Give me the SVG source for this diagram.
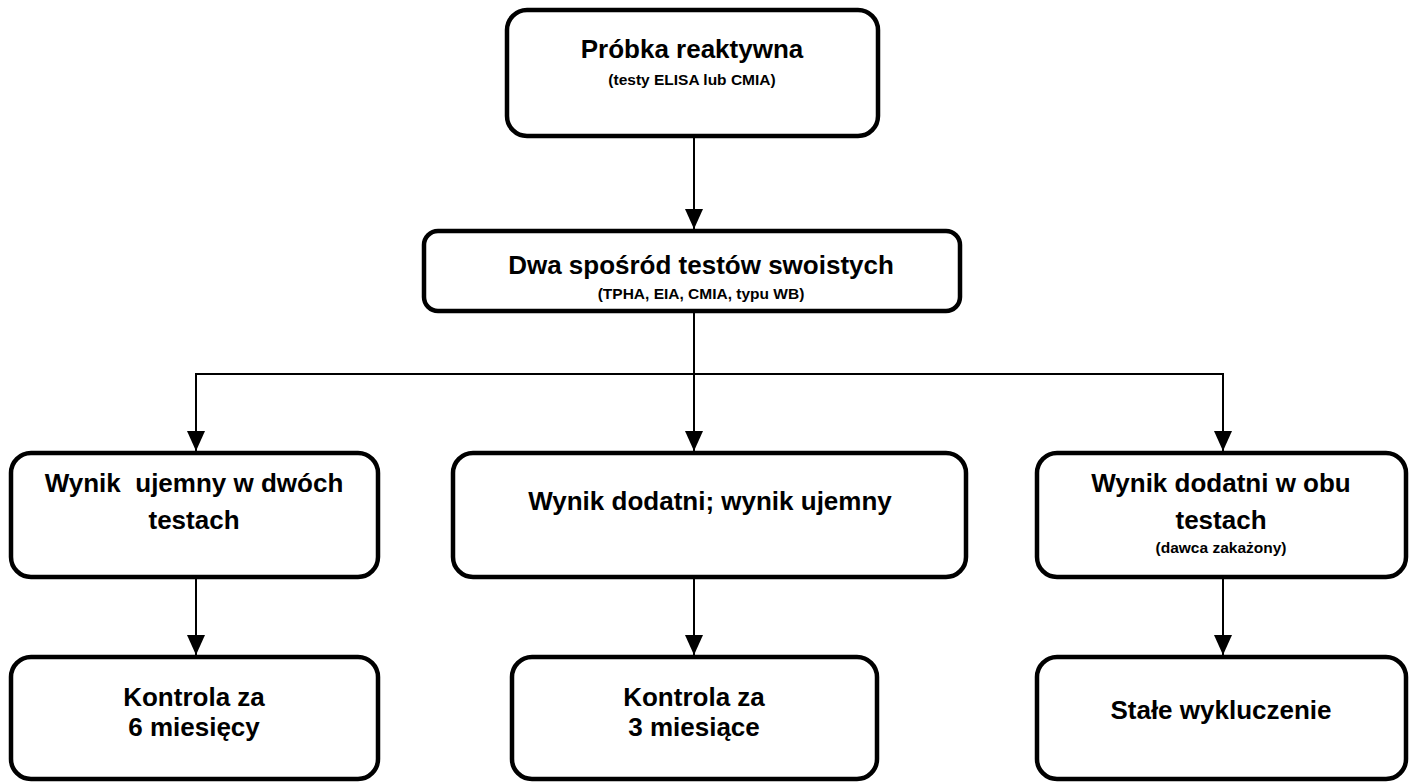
<svg xmlns="http://www.w3.org/2000/svg" width="1414" height="783" viewBox="0 0 1414 783">
<style>
.box{fill:#fff;stroke:#000;stroke-width:4.5}
.t{font-family:"Liberation Sans",Arial,sans-serif;font-weight:bold;fill:#000;text-anchor:middle}
.h{font-size:26px}
.s{font-size:15.5px}
.c{fill:none;stroke:#000;stroke-width:2}
</style>
<defs>
<marker id="arr" markerUnits="userSpaceOnUse" markerWidth="20" markerHeight="18" refX="20" refY="9" orient="auto" viewBox="0 0 20 18">
<path d="M0,0 L20,9 L0,18 z" fill="#000"/>
</marker>
</defs>
<rect width="1414" height="783" fill="#fff"/>
<g id="connectors">
<line class="c" x1="694" y1="138" x2="694" y2="229" marker-end="url(#arr)"/>
<line class="c" x1="694" y1="313" x2="694" y2="451" marker-end="url(#arr)"/>
<line class="c" x1="196" y1="374" x2="1223" y2="374"/>
<line class="c" x1="196" y1="373" x2="196" y2="451" marker-end="url(#arr)"/>
<line class="c" x1="1223" y1="373" x2="1223" y2="451" marker-end="url(#arr)"/>
<line class="c" x1="196" y1="579" x2="196" y2="655" marker-end="url(#arr)"/>
<line class="c" x1="694" y1="579" x2="694" y2="655" marker-end="url(#arr)"/>
<line class="c" x1="1223" y1="579" x2="1223" y2="655" marker-end="url(#arr)"/>
</g>
<g id="n1">
<rect class="box" x="507" y="10" width="371" height="126" rx="20"/>
<text class="t h" x="692" y="58">Próbka reaktywna</text>
<text class="t s" x="692" y="85">(testy ELISA lub CMIA)</text>
</g>
<g id="n2">
<rect class="box" x="424" y="231" width="536" height="80" rx="14"/>
<text class="t h" x="701" y="274">Dwa spośród testów swoistych</text>
<text class="t s" x="701" y="299">(TPHA, EIA, CMIA, typu WB)</text>
</g>
<g id="n3">
<rect class="box" x="11" y="453" width="367" height="124" rx="20"/>
<text class="t h" x="194" y="492" xml:space="preserve">Wynik  ujemny w dwóch</text>
<text class="t h" x="194" y="529">testach</text>
</g>
<g id="n4">
<rect class="box" x="453" y="453" width="513" height="124" rx="20"/>
<text class="t h" x="710" y="510">Wynik dodatni; wynik ujemny</text>
</g>
<g id="n5">
<rect class="box" x="1037" y="453" width="369" height="124" rx="20"/>
<text class="t h" x="1221" y="492">Wynik dodatni w obu</text>
<text class="t h" x="1221" y="529">testach</text>
<text class="t s" x="1221" y="553">(dawca zakażony)</text>
</g>
<g id="n6">
<rect class="box" x="11" y="657" width="367" height="122" rx="20"/>
<text class="t h" x="194" y="706">Kontrola za</text>
<text class="t h" x="194" y="736">6 miesięcy</text>
</g>
<g id="n7">
<rect class="box" x="512" y="657" width="365" height="122" rx="20"/>
<text class="t h" x="694" y="706">Kontrola za</text>
<text class="t h" x="694" y="736">3 miesiące</text>
</g>
<g id="n8">
<rect class="box" x="1037" y="657" width="369" height="122" rx="20"/>
<text class="t h" x="1221" y="719">Stałe wykluczenie</text>
</g>
</svg>
